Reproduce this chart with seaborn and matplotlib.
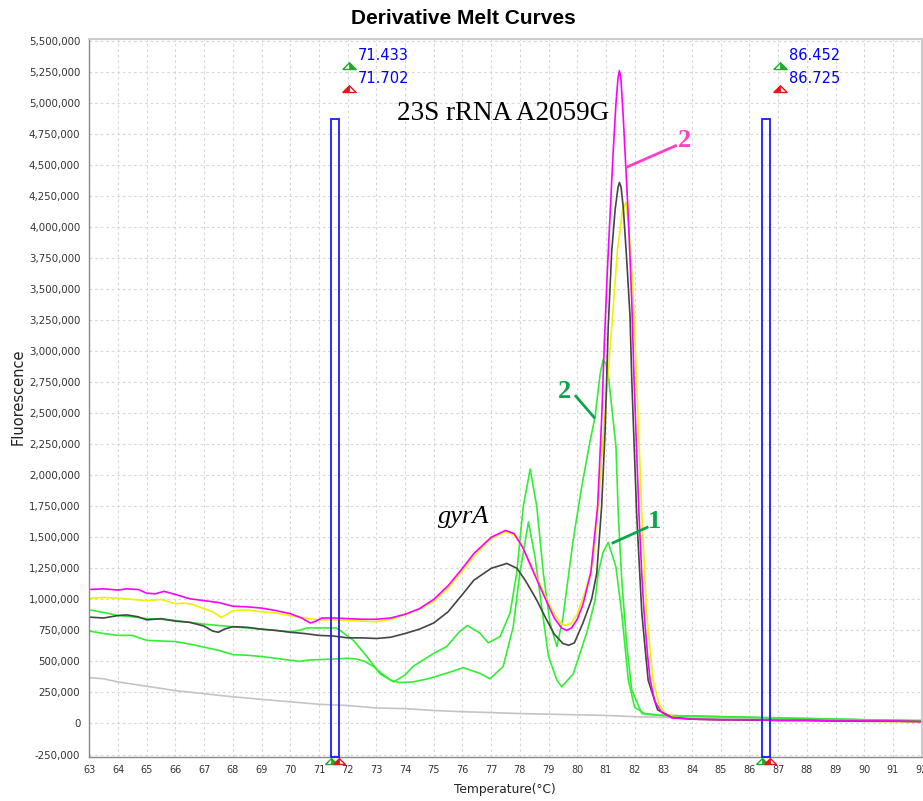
import numpy as np
import pandas as pd
import matplotlib
matplotlib.use("Agg")
import matplotlib.pyplot as plt
import matplotlib.transforms as mtransforms
import seaborn as sns

# ---------------- data (values in thousands of fluorescence units) ----------------
t_magenta = [63.0, 63.5, 64.0, 64.3, 64.7, 65.0, 65.3, 65.6, 66.0, 66.5, 67.0, 67.5, 68.0, 68.5, 69.0, 69.5,
             70.0, 70.4, 70.7, 70.9, 71.1, 71.5, 72.0, 72.5, 73.0, 73.5, 74.0, 74.5, 75.0, 75.5, 76.0, 76.4,
             77.0, 77.5, 77.8, 78.1, 78.4, 78.6, 78.9, 79.2, 79.45, 79.63, 79.8, 80.0, 80.2, 80.47, 80.71,
             80.85, 80.95, 81.05, 81.14, 81.25, 81.35, 81.42, 81.47, 81.52, 81.6, 81.7, 81.78, 81.9, 81.98,
             82.07, 82.15, 82.25, 82.33, 82.45, 82.54, 82.7, 82.94, 83.3, 84, 85, 86, 87, 88, 89, 90, 91, 92]
v_magenta = [1080, 1085, 1075, 1085, 1080, 1050, 1045, 1065, 1040, 1005, 990, 975, 945, 940, 930, 910,
             885, 850, 810, 825, 850, 850, 845, 840, 840, 850, 880, 925, 1000, 1110, 1250, 1370,
             1500, 1556, 1530, 1420, 1260, 1155, 1000, 850, 770, 750, 770, 840, 960, 1210, 1750,
             2450, 3100, 3650, 4080, 4600, 5000, 5200, 5260, 5200, 4900, 4450, 4080, 3400, 2770,
             2200, 1690, 1200, 890, 550, 350, 180, 90, 45, 35, 30, 30, 25, 25, 20, 20, 20, 15]

t_yellow = [63.0, 63.5, 64.0, 64.5, 65.0, 65.5, 66.0, 66.3, 66.6, 67.0, 67.3, 67.6, 67.8, 68.0, 68.5, 69.0,
            69.5, 70.0, 70.5, 71.0, 71.5, 72.0, 72.5, 73.0, 73.5, 74.0, 74.5, 75.0, 75.5, 76.0, 76.4, 77.0,
            77.5, 77.8, 78.1, 78.4, 78.6, 78.9, 79.2, 79.45, 79.6, 79.8, 80.0, 80.3, 80.55, 80.75, 80.9,
            81.05, 81.23, 81.4, 81.58, 81.7, 81.81, 81.93, 82.07, 82.25, 82.42, 82.64, 82.85, 83.06, 83.5,
            84, 85, 86, 87, 88, 89, 90, 91, 92]
v_yellow = [1010, 1015, 1010, 1000, 990, 1000, 965, 970, 960, 925, 900, 855, 880, 910, 915, 900,
            890, 870, 850, 835, 835, 830, 825, 820, 840, 875, 920, 985, 1090, 1230, 1350, 1490,
            1545, 1520, 1420, 1270, 1170, 1020, 880, 800, 790, 810, 880, 1080, 1300, 1800, 2300,
            2740, 3280, 3810, 4140, 4200, 3950, 3550, 2770, 1690, 890, 350, 160, 80, 45,
            35, 30, 28, 25, 22, 20, 18, 15, 15]

t_black = [63.0, 63.5, 64.0, 64.3, 64.7, 65.0, 65.5, 66.0, 66.5, 67.0, 67.3, 67.5, 67.7, 68.0, 68.5, 69.0,
           69.5, 70.0, 70.5, 71.0, 71.5, 72.0, 72.5, 73.0, 73.5, 74.0, 74.5, 75.0, 75.5, 76.0, 76.4, 77.0,
           77.55, 77.9, 78.2, 78.6, 78.9, 79.2, 79.5, 79.7, 79.9, 80.2, 80.5, 80.68, 80.85, 80.97, 81.08,
           81.2, 81.32, 81.42, 81.47, 81.53, 81.61, 81.72, 81.84, 81.9, 82.07, 82.25, 82.47, 82.8, 83.3,
           84, 85, 86, 87, 88, 89, 90, 91, 92]
v_black = [857, 850, 870, 875, 860, 835, 845, 825, 815, 785, 745, 735, 760, 780, 775, 760,
           750, 735, 725, 710, 705, 690, 690, 685, 695, 725, 760, 810, 900, 1040, 1155, 1250,
           1290, 1250, 1150, 990, 850, 720, 645, 630, 650, 810, 1000, 1210, 1750, 2350, 3200,
           3800, 4140, 4320, 4360, 4320, 4140, 3750, 3280, 2770, 1690, 890, 350, 110, 50,
           35, 30, 28, 25, 25, 20, 18, 18, 15]

t_green2 = [63.0, 63.5, 64.0, 64.5, 65.0, 65.5, 66.0, 66.5, 67.0, 67.5, 68.0, 68.5, 69.0, 69.5, 70.0, 70.3,
            70.6, 71.0, 71.6, 71.74, 72.2, 72.67, 73.13, 73.6, 74.0, 74.28, 75.0, 75.45, 75.9, 76.17, 76.6,
            76.9, 77.31, 77.66, 77.89, 78.12, 78.36, 78.59, 78.82, 79.05, 79.29, 79.5, 79.86, 80.15, 80.45,
            80.62, 80.8, 80.9, 81.0, 81.1, 81.35, 81.43, 81.55, 81.73, 81.9, 82.25, 82.6, 83.0,
            84, 85, 86, 87, 88, 89, 90, 91, 92]
v_green2 = [915, 895, 870, 860, 845, 840, 830, 815, 800, 790, 780, 770, 760, 750, 740, 750,
            770, 770, 770, 750, 670, 540, 400, 335, 390, 460, 565, 620, 740, 790, 730,
            650, 700, 890, 1210, 1750, 2050, 1750, 1210, 810, 620, 850, 1480, 1900, 2280,
            2470, 2820, 2930, 2900, 2770, 2230, 1690, 1160, 620, 270, 80, 70, 65,
            60, 55, 50, 45, 40, 35, 30, 25, 20]

t_green1 = [63.0, 63.5, 64.0, 64.5, 65.0, 65.5, 66.0, 66.5, 67.0, 67.5, 68.0, 68.5, 69.0, 69.5, 70.0, 70.3,
            70.6, 71.0, 71.6, 72.0, 72.3, 72.6, 72.9, 73.2, 73.5, 73.8, 74.28, 74.8, 75.45, 76.03, 76.6,
            76.96, 77.42, 77.77, 78.0, 78.3, 78.53, 78.76, 79.0, 79.29, 79.46, 79.86, 80.33, 80.62, 80.73,
            80.9, 81.08, 81.35, 81.55, 81.78, 82.0, 82.35, 83.0, 84, 85, 86, 87, 88, 89, 90, 91, 92]
v_green1 = [745, 725, 710, 710, 670, 665, 660, 640, 615, 590, 555, 550, 540, 525, 510, 500,
            510, 515, 520, 525, 520, 500, 460, 400, 350, 330, 335, 360, 405, 450, 405,
            360, 460, 780, 1210, 1625, 1340, 940, 540, 350, 295, 400, 730, 990, 1210,
            1380, 1460, 1260, 890, 350, 130, 80, 65, 60, 55, 50, 45, 40, 35, 30, 25, 20]

t_gray = [63, 63.5, 64, 65, 66, 67, 68, 69, 70, 71, 72, 73, 74, 75, 76, 77, 78, 79, 80, 81, 82, 83, 84,
          86, 88, 90, 92]
v_gray = [370, 360, 335, 300, 265, 240, 215, 195, 175, 155, 145, 125, 120, 105, 95, 88, 80, 75, 70, 65,
          55, 50, 45, 40, 35, 30, 28]

# melt-region cursors (start / end temperatures)
cursor_start = [71.433, 86.452]
cursor_end = [71.702, 86.725]
cursor_top = 4870  # thousands

x_ticks = list(range(63, 93))
y_ticks = [-250, 0, 250, 500, 750, 1000, 1250, 1500, 1750, 2000, 2250, 2500, 2750, 3000, 3250,
           3500, 3750, 4000, 4250, 4500, 4750, 5000, 5250, 5500]

SCALE = 1000

# ---------------- build long table ----------------
series = [
    ("gray", t_gray, v_gray),
    ("green1", t_green1, v_green1),
    ("green2", t_green2, v_green2),
    ("yellow", t_yellow, v_yellow),
    ("black", t_black, v_black),
    ("magenta", t_magenta, v_magenta),
]
frames = []
for name, t, v in series:
    d = pd.DataFrame({"Temperature": t, "Fluorescence": v})
    d["Fluorescence"] = d["Fluorescence"] * SCALE
    d["curve"] = name
    frames.append(d)
df = pd.concat(frames, ignore_index=True)

palette = {"gray": "#c4c4c4", "green1": "#33ee33", "green2": "#33ee33",
           "yellow": "#f0f000", "black": "#454545", "magenta": "#ff00ff"}

sns.set_style("white")
plt.rcParams["font.family"] = ["DejaVu Sans"]

fig = plt.figure(figsize=(9.23, 8.01), dpi=100)
ax = fig.add_axes([0.09675, 0.05493, 0.9018, 0.8964])

YMIN, YMAX = -270000, 5516000
ax.set_xlim(63, 92)
ax.set_ylim(YMIN, YMAX)

ax.set_xticks(x_ticks)
ax.set_yticks([y * SCALE for y in y_ticks])
ax.set_yticklabels([f"{y * SCALE:,}" for y in y_ticks])
ax.set_xticklabels([str(x) for x in x_ticks])
ax.tick_params(axis="y", labelsize=7.4, length=3, width=1, color="#808080",
               labelcolor="#333333", pad=3.5)
ax.tick_params(axis="x", labelsize=7.0, length=3, width=1, color="#808080",
               labelcolor="#333333", pad=3)
ax.grid(True, color="#d8d8d8", linestyle=(0, (2.5, 2.5)), linewidth=0.8)
ax.set_axisbelow(True)
for s in ["left", "bottom"]:
    ax.spines[s].set_color("#8a8a8a")
    ax.spines[s].set_linewidth(1.0)
for s in ["top", "right"]:
    ax.spines[s].set_color("#cccccc")
    ax.spines[s].set_linewidth(1.5)

sns.lineplot(data=df, x="Temperature", y="Fluorescence", hue="curve",
             hue_order=[s[0] for s in series], palette=palette,
             estimator=None, sort=False, legend=False, linewidth=1.2, ax=ax)
ax.set_xlabel("")
ax.set_ylabel("")

# cursor boxes
ax.bar(cursor_start, [cursor_top * SCALE - YMIN] * 2,
       width=[e - s for s, e in zip(cursor_start, cursor_end)],
       bottom=YMIN, align="edge", fill=False, edgecolor="#1a1aff",
       linewidth=1.3, zorder=5, clip_on=False)

# cursor markers and labels
tri_full = [(-1, 0), (1, 0), (0, 1.0), (-1, 0)]
tri_right = [(0, 0), (1, 0), (0, 1.0), (0, 0)]
tri_left = [(-1, 0), (0, 0), (0, 1.0), (-1, 0)]
green_c, red_c = "#1faa2a", "#e01818"

off_marker = mtransforms.offset_copy(ax.transData, fig=fig, x=12.7, y=0, units="points")
off_text = mtransforms.offset_copy(ax.transData, fig=fig, x=19.0, y=0, units="points")
for s, e in zip(cursor_start, cursor_end):
    for yv, col, half in [(5274000, green_c, tri_right), (5090000, red_c, tri_left)]:
        ax.plot([s], [yv], ls="none", marker=tri_full, ms=9.6, mfc="white", mec=col, mew=1.0,
                transform=off_marker, clip_on=False, zorder=6)
        ax.plot([s], [yv], ls="none", marker=half, ms=9.6, mfc=col, mec=col, mew=0.6,
                transform=off_marker, clip_on=False, zorder=7)
    ax.text(s, 5380000, f"{s:.3f}", color="#0000ff", fontsize=10.5, ha="left", va="center",
            transform=off_text, zorder=7)
    ax.text(s, 5200000, f"{e:.3f}", color="#0000ff", fontsize=10.5, ha="left", va="center",
            transform=off_text, zorder=7)

# bottom axis markers
bt = mtransforms.offset_copy(ax.get_xaxis_transform(), fig=fig, x=0, y=-5.0, units="points")
for s, e in zip(cursor_start, cursor_end):
    for xv, col, half in [(s, green_c, tri_right), (e, red_c, tri_left)]:
        ax.plot([xv], [0], ls="none", marker=tri_full, ms=8.5, mfc="white", mec=col, mew=1.0,
                transform=bt, clip_on=False, zorder=8)
        ax.plot([xv], [0], ls="none", marker=half, ms=8.5, mfc=col, mec=col, mew=0.6,
                transform=bt, clip_on=False, zorder=9)

# annotations
serif = ["Liberation Serif", "DejaVu Serif"]
ax.text(73.72, 4863000, "23S rRNA A2059G", family=serif, fontsize=19.5, ha="left",
        va="baseline", color="black", zorder=8)
ax.text(75.16, 1612000, "gyrA", family=serif, fontsize=19, style="italic", ha="left",
        va="baseline", color="black", zorder=8)

pink = "#ff3fc8"
dgreen = "#0aa64c"
ax.plot([81.69, 83.47], [4480000, 4660000], color=pink, lw=2.0, solid_capstyle="butt", zorder=8)
ax.text(83.5, 4648000, "2", family=serif, fontsize=19, weight="bold", color=pink,
        ha="left", va="baseline", zorder=8)
ax.plot([79.92, 80.62], [2646000, 2458000], color=dgreen, lw=2.0, solid_capstyle="butt", zorder=8)
ax.text(79.33, 2620000, "2", family=serif, fontsize=19, weight="bold", color=dgreen,
        ha="left", va="baseline", zorder=8)
ax.plot([81.2, 82.48], [1451000, 1585000], color=dgreen, lw=2.0, solid_capstyle="butt", zorder=8)
ax.text(82.47, 1572000, "1", family=serif, fontsize=19, weight="bold", color=dgreen,
        ha="left", va="baseline", zorder=8)

# titles and axis labels
fig.text(463 / 923, 1 - 18 / 801, "Derivative Melt Curves", family=["Liberation Sans", "DejaVu Sans"],
         fontsize=15, weight="bold", ha="center", va="center", color="black")
fig.text(18 / 923, 1 - 397 / 801, "Fluorescence", fontsize=10.5, rotation=90,
         ha="center", va="center", color="#222222")
fig.text(505 / 923, 1 - 790 / 801, "Temperature(°C)", fontsize=8.8,
         ha="center", va="center", color="#222222")

fig.savefig("out.png", dpi=100, facecolor="white")
